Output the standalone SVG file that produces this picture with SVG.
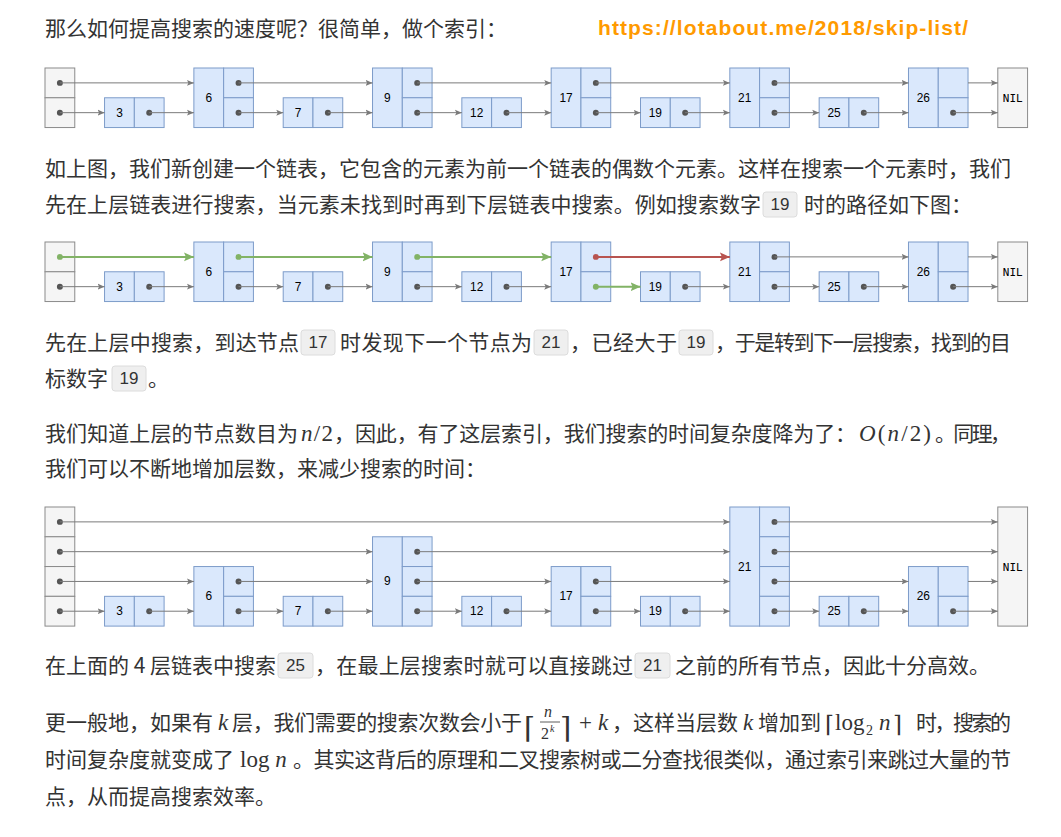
<svg xmlns="http://www.w3.org/2000/svg" width="1061" height="837" viewBox="0 0 1061 837">
<defs>
<style>
.hd{fill:#f5f5f5;stroke:#8a8a8a;stroke-width:1}
.nd{fill:#dae8fc;stroke:#7c9bc9;stroke-width:1}
.lb{font-family:"Liberation Sans",Arial,sans-serif;font-size:12px;fill:#000;text-anchor:middle}
.nil{font-family:"DejaVu Sans Mono",monospace;font-size:11px;fill:#000;text-anchor:middle}
.dt{fill:#555}
.dg{fill:#82b366}
.dr{fill:#b85450}
.ln{stroke:#7a7a7a;stroke-width:1;fill:none;marker-end:url(#ag)}
.lg{stroke:#82b366;stroke-width:2;fill:none;marker-end:url(#agr)}
.lr{stroke:#b85450;stroke-width:2;fill:none;marker-end:url(#ar)}
.t{font-family:"Noto Sans CJK SC",sans-serif;font-size:21px;fill:#333}
.m{font-family:"Liberation Serif",serif;font-size:23px;fill:#333}
.i{font-style:italic}
.br{font-family:"DejaVu Serif",serif;fill:#333;font-weight:normal}
.cb{fill:#efefef;stroke:#dcdcdc;stroke-width:1}
.ct{font-family:"Liberation Sans",Arial,sans-serif;font-size:17px;fill:#333;text-anchor:middle}
</style>
<marker id="ag" markerUnits="userSpaceOnUse" markerWidth="8" markerHeight="8" refX="7" refY="3.5" orient="auto"><path d="M0,0.5 L7,3.5 L0,6.5 L1.5,3.5 z" fill="#7a7a7a"/></marker>
<marker id="agr" markerUnits="userSpaceOnUse" markerWidth="11" markerHeight="10" refX="10" refY="4.5" orient="auto"><path d="M0,0 L10,4.5 L0,9 L2,4.5 z" fill="#82b366"/></marker>
<marker id="ar" markerUnits="userSpaceOnUse" markerWidth="11" markerHeight="10" refX="10" refY="4.5" orient="auto"><path d="M0,0 L10,4.5 L0,9 L2,4.5 z" fill="#b85450"/></marker>
</defs>
<rect width="1061" height="837" fill="#fff"/>

<!-- text blocks -->
<g id="text">
<text class="t" x="45" y="36">那么如何提高搜索的速度呢？很简单，做个索引：</text>
<text x="598" y="35" font-family="Liberation Sans,Arial,sans-serif" font-weight="bold" font-size="21" fill="#ff9a00" textLength="370">https://lotabout.me/2018/skip-list/</text>

<text class="t" x="45" y="176" textLength="966">如上图，我们新创建一个链表，它包含的元素为前一个链表的偶数个元素。这样在搜索一个元素时，我们</text>
<text class="t" x="45" y="212" textLength="716">先在上层链表进行搜索，当元素未找到时再到下层链表中搜索。例如搜索数字</text>
<rect class="cb" x="763" y="192" width="34" height="25" rx="3"/><text class="ct" x="780" y="210">19</text>
<text class="t" x="804" y="212">时的路径如下图：</text>

<text class="t" x="45" y="350" textLength="254">先在上层中搜索，到达节点</text>
<rect class="cb" x="301" y="330" width="34" height="25" rx="3"/><text class="ct" x="318" y="348">17</text>
<text class="t" x="340" y="350" textLength="192">时发现下一个节点为</text>
<rect class="cb" x="534" y="330" width="34" height="25" rx="3"/><text class="ct" x="551" y="348">21</text>
<text class="t" x="570" y="350" textLength="107">，已经大于</text>
<rect class="cb" x="679" y="330" width="34" height="25" rx="3"/><text class="ct" x="696" y="348">19</text>
<text class="t" x="715" y="350" textLength="296">，于是转到下一层搜索，找到的目</text>
<text class="t" x="45" y="386">标数字</text>
<rect class="cb" x="112" y="366" width="34" height="25" rx="3"/><text class="ct" x="129" y="384">19</text>
<text class="t" x="148" y="386">。</text>

<text class="t" x="45" y="441" textLength="253">我们知道上层的节点数目为</text>
<text class="m" x="301" y="441" textLength="32"><tspan class="i">n</tspan>/2</text>
<text class="t" x="334" y="441" textLength="522">，因此，有了这层索引，我们搜索的时间复杂度降为了：</text>
<text class="m" x="859" y="441" textLength="72"><tspan class="i">O</tspan>(<tspan class="i">n</tspan>/2)</text>
<text class="t" x="935" y="441" textLength="76">。同理，</text>
<text class="t" x="45" y="476">我们可以不断地增加层数，来减少搜索的时间：</text>

<text class="t" x="45" y="673" textLength="231">在上面的 4 层链表中搜索</text>
<rect class="cb" x="278" y="653" width="35" height="25" rx="3"/><text class="ct" x="295.5" y="671">25</text>
<text class="t" x="315" y="673" textLength="318">，在最上层搜索时就可以直接跳过</text>
<rect class="cb" x="635" y="653" width="35" height="25" rx="3"/><text class="ct" x="652.5" y="671">21</text>
<text class="t" x="675" y="673">之前的所有节点，因此十分高效。</text>

<text class="t" x="45" y="730" textLength="168">更一般地，如果有</text>
<text class="m i" x="218" y="730">k</text>
<text class="t" x="232" y="730" textLength="290">层，我们需要的搜索次数会小于</text>
<text class="br" x="524" y="738" style="font-size:29px">⌈</text>
<text class="m i" x="544" y="717" style="font-size:16px">n</text>
<line x1="540" y1="722" x2="560" y2="722" stroke="#333" stroke-width="0.8"/>
<text class="m" x="541" y="739" style="font-size:16px">2</text>
<text class="m i" x="550" y="732" style="font-size:10px">k</text>
<text class="br" x="560" y="738" style="font-size:29px">⌉</text>
<text class="m" x="579" y="730">+</text>
<text class="m i" x="598" y="730">k</text>
<text class="t" x="612" y="730" textLength="126">，这样当层数</text>
<text class="m i" x="743" y="730">k</text>
<text class="t" x="758" y="730" textLength="63">增加到</text>
<text class="br" x="825" y="732" style="font-size:23px">⌈</text>
<text class="m" x="835" y="730">log</text>
<text class="m" x="866" y="735" style="font-size:14px">2</text>
<text class="m i" x="879" y="730">n</text>
<text class="br" x="893" y="732" style="font-size:23px">⌉</text>
<text class="t" x="916" y="730" textLength="95">时，搜索的</text>

<text class="t" x="45" y="767" textLength="189">时间复杂度就变成了</text>
<text class="m" x="240" y="767">log <tspan class="i">n</tspan></text>
<text class="t" x="293" y="767" textLength="718">。其实这背后的原理和二叉搜索树或二分查找很类似，通过索引来跳过大量的节</text>
<text class="t" x="45" y="804">点，从而提高搜索效率。</text>
</g>

<!-- Diagram 1 -->
<g id="diagram1" transform="translate(45,68) scale(0.9925)">
<g id="d1-head"><rect class="hd" x="0" y="0" width="30" height="30"/><rect class="hd" x="0" y="30" width="30" height="30"/><circle class="dt" cx="15" cy="15" r="3"/><circle class="dt" cx="15" cy="45" r="3"/></g>
<g id="d1-n3"><rect class="nd" x="60" y="30" width="30" height="30"/><rect class="nd" x="90" y="30" width="30" height="30"/><text class="lb" x="75" y="49">3</text><circle class="dt" cx="105" cy="45" r="3"/></g>
<g id="d1-n6"><rect class="nd" x="150" y="0" width="30" height="60"/><rect class="nd" x="180" y="0" width="30" height="30"/><rect class="nd" x="180" y="30" width="30" height="30"/><text class="lb" x="165" y="34">6</text><circle class="dt" cx="195" cy="15" r="3"/><circle class="dt" cx="195" cy="45" r="3"/></g>
<g id="d1-n7"><rect class="nd" x="240" y="30" width="30" height="30"/><rect class="nd" x="270" y="30" width="30" height="30"/><text class="lb" x="255" y="49">7</text><circle class="dt" cx="285" cy="45" r="3"/></g>
<g id="d1-n9"><rect class="nd" x="330" y="0" width="30" height="60"/><rect class="nd" x="360" y="0" width="30" height="30"/><rect class="nd" x="360" y="30" width="30" height="30"/><text class="lb" x="345" y="34">9</text><circle class="dt" cx="375" cy="15" r="3"/><circle class="dt" cx="375" cy="45" r="3"/></g>
<g id="d1-n12"><rect class="nd" x="420" y="30" width="30" height="30"/><rect class="nd" x="450" y="30" width="30" height="30"/><text class="lb" x="435" y="49">12</text><circle class="dt" cx="465" cy="45" r="3"/></g>
<g id="d1-n17"><rect class="nd" x="510" y="0" width="30" height="60"/><rect class="nd" x="540" y="0" width="30" height="30"/><rect class="nd" x="540" y="30" width="30" height="30"/><text class="lb" x="525" y="34">17</text><circle class="dt" cx="555" cy="15" r="3"/><circle class="dt" cx="555" cy="45" r="3"/></g>
<g id="d1-n19"><rect class="nd" x="600" y="30" width="30" height="30"/><rect class="nd" x="630" y="30" width="30" height="30"/><text class="lb" x="615" y="49">19</text><circle class="dt" cx="645" cy="45" r="3"/></g>
<g id="d1-n21"><rect class="nd" x="690" y="0" width="30" height="60"/><rect class="nd" x="720" y="0" width="30" height="30"/><rect class="nd" x="720" y="30" width="30" height="30"/><text class="lb" x="705" y="34">21</text><circle class="dt" cx="735" cy="15" r="3"/><circle class="dt" cx="735" cy="45" r="3"/></g>
<g id="d1-n25"><rect class="nd" x="780" y="30" width="30" height="30"/><rect class="nd" x="810" y="30" width="30" height="30"/><text class="lb" x="795" y="49">25</text><circle class="dt" cx="825" cy="45" r="3"/></g>
<g id="d1-n26"><rect class="nd" x="870" y="0" width="30" height="60"/><rect class="nd" x="900" y="0" width="30" height="30"/><rect class="nd" x="900" y="30" width="30" height="30"/><text class="lb" x="885" y="34">26</text><circle class="dt" cx="915" cy="45" r="3"/></g>
<g id="d1-nil"><rect class="hd" x="960" y="0" width="30" height="60"/><text class="nil" x="975" y="34">NIL</text></g>
<g id="d1-connectors">
<line class="ln" x1="15" y1="15" x2="150" y2="15"/><line class="ln" x1="195" y1="15" x2="330" y2="15"/><line class="ln" x1="375" y1="15" x2="510" y2="15"/><line class="ln" x1="555" y1="15" x2="690" y2="15"/><line class="ln" x1="735" y1="15" x2="870" y2="15"/><line class="ln" x1="930" y1="15" x2="960" y2="15"/>
<line class="ln" x1="15" y1="45" x2="60" y2="45"/><line class="ln" x1="105" y1="45" x2="150" y2="45"/><line class="ln" x1="195" y1="45" x2="240" y2="45"/><line class="ln" x1="285" y1="45" x2="330" y2="45"/><line class="ln" x1="375" y1="45" x2="420" y2="45"/><line class="ln" x1="465" y1="45" x2="510" y2="45"/><line class="ln" x1="555" y1="45" x2="600" y2="45"/><line class="ln" x1="645" y1="45" x2="690" y2="45"/><line class="ln" x1="735" y1="45" x2="780" y2="45"/><line class="ln" x1="825" y1="45" x2="870" y2="45"/><line class="ln" x1="915" y1="45" x2="960" y2="45"/>
</g>
</g>

<!-- Diagram 2 -->
<g id="diagram2" transform="translate(45,242) scale(0.9925)">
<g id="d2-head"><rect class="hd" x="0" y="0" width="30" height="30"/><rect class="hd" x="0" y="30" width="30" height="30"/><circle class="dg" cx="15" cy="15" r="3"/><circle class="dt" cx="15" cy="45" r="3"/></g>
<g id="d2-n3"><rect class="nd" x="60" y="30" width="30" height="30"/><rect class="nd" x="90" y="30" width="30" height="30"/><text class="lb" x="75" y="49">3</text><circle class="dt" cx="105" cy="45" r="3"/></g>
<g id="d2-n6"><rect class="nd" x="150" y="0" width="30" height="60"/><rect class="nd" x="180" y="0" width="30" height="30"/><rect class="nd" x="180" y="30" width="30" height="30"/><text class="lb" x="165" y="34">6</text><circle class="dg" cx="195" cy="15" r="3"/><circle class="dt" cx="195" cy="45" r="3"/></g>
<g id="d2-n7"><rect class="nd" x="240" y="30" width="30" height="30"/><rect class="nd" x="270" y="30" width="30" height="30"/><text class="lb" x="255" y="49">7</text><circle class="dt" cx="285" cy="45" r="3"/></g>
<g id="d2-n9"><rect class="nd" x="330" y="0" width="30" height="60"/><rect class="nd" x="360" y="0" width="30" height="30"/><rect class="nd" x="360" y="30" width="30" height="30"/><text class="lb" x="345" y="34">9</text><circle class="dg" cx="375" cy="15" r="3"/><circle class="dt" cx="375" cy="45" r="3"/></g>
<g id="d2-n12"><rect class="nd" x="420" y="30" width="30" height="30"/><rect class="nd" x="450" y="30" width="30" height="30"/><text class="lb" x="435" y="49">12</text><circle class="dt" cx="465" cy="45" r="3"/></g>
<g id="d2-n17"><rect class="nd" x="510" y="0" width="30" height="60"/><rect class="nd" x="540" y="0" width="30" height="30"/><rect class="nd" x="540" y="30" width="30" height="30"/><text class="lb" x="525" y="34">17</text><circle class="dr" cx="555" cy="15" r="3"/><circle class="dg" cx="555" cy="45" r="3"/></g>
<g id="d2-n19"><rect class="nd" x="600" y="30" width="30" height="30"/><rect class="nd" x="630" y="30" width="30" height="30"/><text class="lb" x="615" y="49">19</text><circle class="dt" cx="645" cy="45" r="3"/></g>
<g id="d2-n21"><rect class="nd" x="690" y="0" width="30" height="60"/><rect class="nd" x="720" y="0" width="30" height="30"/><rect class="nd" x="720" y="30" width="30" height="30"/><text class="lb" x="705" y="34">21</text><circle class="dt" cx="735" cy="15" r="3"/><circle class="dt" cx="735" cy="45" r="3"/></g>
<g id="d2-n25"><rect class="nd" x="780" y="30" width="30" height="30"/><rect class="nd" x="810" y="30" width="30" height="30"/><text class="lb" x="795" y="49">25</text><circle class="dt" cx="825" cy="45" r="3"/></g>
<g id="d2-n26"><rect class="nd" x="870" y="0" width="30" height="60"/><rect class="nd" x="900" y="0" width="30" height="30"/><rect class="nd" x="900" y="30" width="30" height="30"/><text class="lb" x="885" y="34">26</text><circle class="dt" cx="915" cy="45" r="3"/></g>
<g id="d2-nil"><rect class="hd" x="960" y="0" width="30" height="60"/><text class="nil" x="975" y="34">NIL</text></g>
<g id="d2-connectors">
<line class="lg" x1="15" y1="15" x2="150" y2="15"/><line class="lg" x1="195" y1="15" x2="330" y2="15"/><line class="lg" x1="375" y1="15" x2="510" y2="15"/><line class="lr" x1="555" y1="15" x2="690" y2="15"/><line class="ln" x1="735" y1="15" x2="870" y2="15"/><line class="ln" x1="930" y1="15" x2="960" y2="15"/>
<line class="ln" x1="15" y1="45" x2="60" y2="45"/><line class="ln" x1="105" y1="45" x2="150" y2="45"/><line class="ln" x1="195" y1="45" x2="240" y2="45"/><line class="ln" x1="285" y1="45" x2="330" y2="45"/><line class="ln" x1="375" y1="45" x2="420" y2="45"/><line class="ln" x1="465" y1="45" x2="510" y2="45"/><line class="lg" x1="555" y1="45" x2="600" y2="45"/><line class="ln" x1="645" y1="45" x2="690" y2="45"/><line class="ln" x1="735" y1="45" x2="780" y2="45"/><line class="ln" x1="825" y1="45" x2="870" y2="45"/><line class="ln" x1="915" y1="45" x2="960" y2="45"/>
</g>
</g>

<!-- Diagram 3 -->
<g id="diagram3" transform="translate(45,507) scale(0.9925)">
<g id="d3-head"><rect class="hd" x="0" y="0" width="30" height="30"/><rect class="hd" x="0" y="30" width="30" height="30"/><rect class="hd" x="0" y="60" width="30" height="30"/><rect class="hd" x="0" y="90" width="30" height="30"/><circle class="dt" cx="15" cy="15" r="3"/><circle class="dt" cx="15" cy="45" r="3"/><circle class="dt" cx="15" cy="75" r="3"/><circle class="dt" cx="15" cy="105" r="3"/></g>
<g id="d3-n3"><rect class="nd" x="60" y="90" width="30" height="30"/><rect class="nd" x="90" y="90" width="30" height="30"/><text class="lb" x="75" y="109">3</text><circle class="dt" cx="105" cy="105" r="3"/></g>
<g id="d3-n6"><rect class="nd" x="150" y="60" width="30" height="60"/><rect class="nd" x="180" y="60" width="30" height="30"/><rect class="nd" x="180" y="90" width="30" height="30"/><text class="lb" x="165" y="94">6</text><circle class="dt" cx="195" cy="75" r="3"/><circle class="dt" cx="195" cy="105" r="3"/></g>
<g id="d3-n7"><rect class="nd" x="240" y="90" width="30" height="30"/><rect class="nd" x="270" y="90" width="30" height="30"/><text class="lb" x="255" y="109">7</text><circle class="dt" cx="285" cy="105" r="3"/></g>
<g id="d3-n9"><rect class="nd" x="330" y="30" width="30" height="90"/><rect class="nd" x="360" y="30" width="30" height="30"/><rect class="nd" x="360" y="60" width="30" height="30"/><rect class="nd" x="360" y="90" width="30" height="30"/><text class="lb" x="345" y="79">9</text><circle class="dt" cx="375" cy="45" r="3"/><circle class="dt" cx="375" cy="75" r="3"/><circle class="dt" cx="375" cy="105" r="3"/></g>
<g id="d3-n12"><rect class="nd" x="420" y="90" width="30" height="30"/><rect class="nd" x="450" y="90" width="30" height="30"/><text class="lb" x="435" y="109">12</text><circle class="dt" cx="465" cy="105" r="3"/></g>
<g id="d3-n17"><rect class="nd" x="510" y="60" width="30" height="60"/><rect class="nd" x="540" y="60" width="30" height="30"/><rect class="nd" x="540" y="90" width="30" height="30"/><text class="lb" x="525" y="94">17</text><circle class="dt" cx="555" cy="75" r="3"/><circle class="dt" cx="555" cy="105" r="3"/></g>
<g id="d3-n19"><rect class="nd" x="600" y="90" width="30" height="30"/><rect class="nd" x="630" y="90" width="30" height="30"/><text class="lb" x="615" y="109">19</text><circle class="dt" cx="645" cy="105" r="3"/></g>
<g id="d3-n21"><rect class="nd" x="690" y="0" width="30" height="120"/><rect class="nd" x="720" y="0" width="30" height="30"/><rect class="nd" x="720" y="30" width="30" height="30"/><rect class="nd" x="720" y="60" width="30" height="30"/><rect class="nd" x="720" y="90" width="30" height="30"/><text class="lb" x="705" y="64">21</text><circle class="dt" cx="735" cy="15" r="3"/><circle class="dt" cx="735" cy="45" r="3"/><circle class="dt" cx="735" cy="75" r="3"/><circle class="dt" cx="735" cy="105" r="3"/></g>
<g id="d3-n25"><rect class="nd" x="780" y="90" width="30" height="30"/><rect class="nd" x="810" y="90" width="30" height="30"/><text class="lb" x="795" y="109">25</text><circle class="dt" cx="825" cy="105" r="3"/></g>
<g id="d3-n26"><rect class="nd" x="870" y="60" width="30" height="60"/><rect class="nd" x="900" y="60" width="30" height="30"/><rect class="nd" x="900" y="90" width="30" height="30"/><text class="lb" x="885" y="94">26</text><circle class="dt" cx="915" cy="105" r="3"/></g>
<g id="d3-nil"><rect class="hd" x="960" y="0" width="30" height="120"/><text class="nil" x="975" y="64">NIL</text></g>
<g id="d3-connectors">
<line class="ln" x1="15" y1="15" x2="690" y2="15"/><line class="ln" x1="735" y1="15" x2="960" y2="15"/>
<line class="ln" x1="15" y1="45" x2="330" y2="45"/><line class="ln" x1="375" y1="45" x2="690" y2="45"/><line class="ln" x1="735" y1="45" x2="960" y2="45"/>
<line class="ln" x1="15" y1="75" x2="150" y2="75"/><line class="ln" x1="195" y1="75" x2="330" y2="75"/><line class="ln" x1="375" y1="75" x2="510" y2="75"/><line class="ln" x1="555" y1="75" x2="690" y2="75"/><line class="ln" x1="735" y1="75" x2="870" y2="75"/><line class="ln" x1="930" y1="75" x2="960" y2="75"/>
<line class="ln" x1="15" y1="105" x2="60" y2="105"/><line class="ln" x1="105" y1="105" x2="150" y2="105"/><line class="ln" x1="195" y1="105" x2="240" y2="105"/><line class="ln" x1="285" y1="105" x2="330" y2="105"/><line class="ln" x1="375" y1="105" x2="420" y2="105"/><line class="ln" x1="465" y1="105" x2="510" y2="105"/><line class="ln" x1="555" y1="105" x2="600" y2="105"/><line class="ln" x1="645" y1="105" x2="690" y2="105"/><line class="ln" x1="735" y1="105" x2="780" y2="105"/><line class="ln" x1="825" y1="105" x2="870" y2="105"/><line class="ln" x1="915" y1="105" x2="960" y2="105"/>
</g>
</g>
</svg>
